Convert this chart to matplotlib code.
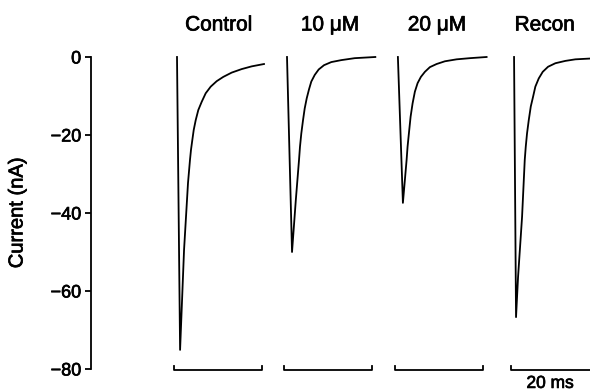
import matplotlib.pyplot as plt
import matplotlib.patheffects as pe

plt.rcParams['font.family'] = ['Liberation Sans', 'DejaVu Sans']

# trace labels and where each trace starts (ms)
labels = ['Control', '10 μM', '20 μM', 'Recon']
offsets = [0.0, 25.0, 50.2, 76.6]

# current traces: time (ms) from trace start, current (nA)
control_t = [0, 0.7, 1.6, 2.5, 2.95, 3.18, 3.48, 3.80, 4.25, 4.84, 5.61, 6.52,
             7.66, 9.02, 10.52, 12.43, 14.7, 16.98, 19.77]
control_i = [0, -75.1, -49.5, -32.3, -26.4, -23.8, -21.3, -18.7, -16.2, -13.6, -11.5, -9.3,
             -7.6, -6.2, -5.1, -4.0, -3.1, -2.4, -1.8]

uM10_t = [0, 1.14, 2.0, 2.73, 2.95, 3.25, 3.64, 4.02, 4.48, 5.0, 5.52, 6.30,
          7.2, 8.41, 10.07, 12.34, 15.39, 20.07]
uM10_i = [0, -50.0, -36.7, -26.4, -23.0, -19.6, -16.2, -13.2, -10.6, -8.3, -6.3, -4.6,
          -3.2, -2.1, -1.3, -0.8, -0.3, 0]

uM20_t = [0, 1.14, 1.98, 2.2, 2.5, 2.89, 3.34, 3.86, 4.48, 5.23, 6.14, 7.27,
          8.80, 10.68, 13.34, 16.36, 20.16]
uM20_i = [0, -37.4, -26.4, -23.0, -19.6, -15.3, -11.9, -8.9, -6.7, -5.1, -3.8, -2.6,
          -1.8, -1.1, -0.6, -0.3, 0]

recon_t = [0, 0.45, 0.91, 1.82, 2.43, 2.66, 2.95, 3.34, 3.80, 4.32, 4.84, 5.61,
           6.52, 7.73, 9.39, 11.66, 13.93, 17.27]
recon_i = [0, -66.7, -56.4, -41.0, -26.4, -23.0, -19.6, -16.2, -12.7, -10.2, -7.6, -5.5,
           -3.8, -2.5, -1.6, -1.0, -0.6, -0.4]

traces = [(control_t, control_i), (uM10_t, uM10_i), (uM20_t, uM20_i), (recon_t, recon_i)]

bar_len = 20  # ms, time scale bar
yticks = [0, -20, -40, -60, -80]

# scanned print looks a bit heavier than a plain regular face
bold = [pe.withStroke(linewidth=0.5, foreground='black')]

fig = plt.figure(figsize=(5.9, 3.92), dpi=100)
ax = fig.add_axes([0.1542, 0.0388, 0.8458, 0.8357])

label_x = [9.5, 9.8, 8.9, 7.0]
for (t, cur), off, lab, lx in zip(traces, offsets, labels, label_x):
    ax.plot([off + v for v in t], cur, color='black', lw=1.3, clip_on=False,
            solid_joinstyle='round')
    # 20 ms bracket under each trace
    x0 = off - 0.7
    ax.plot([x0, x0, x0 + bar_len, x0 + bar_len], [-79.2, -80.3, -80.3, -79.2],
            color='black', lw=1.3, clip_on=False)
    ax.text(off + lx, 8.2, lab, ha='center', va='center', fontsize=15, path_effects=bold)

ax.text(84.8, -83.7, '20 ms', ha='center', va='center', fontsize=12.5, path_effects=bold)

ax.set_xlim(-19.55, 93.86)
ax.set_ylim(-82, 2)
ax.set_yticks(yticks)
ax.set_yticklabels(['0', '−20', '−40', '−60', '−80'], fontsize=13)
for lbl in ax.get_yticklabels():
    lbl.set_path_effects(bold)
ax.tick_params(axis='y', direction='out', length=4, width=1.3, pad=3)
ax.set_xticks([])
for s in ['top', 'right', 'bottom']:
    ax.spines[s].set_visible(False)
ax.spines['left'].set_bounds(-80, 0)
ax.spines['left'].set_linewidth(1.3)

fig.text(17 / 590, 1 - 213 / 392, 'Current (nA)', rotation=90,
         ha='center', va='center', fontsize=14.5, path_effects=bold)

fig.savefig('out.png', dpi=100)
